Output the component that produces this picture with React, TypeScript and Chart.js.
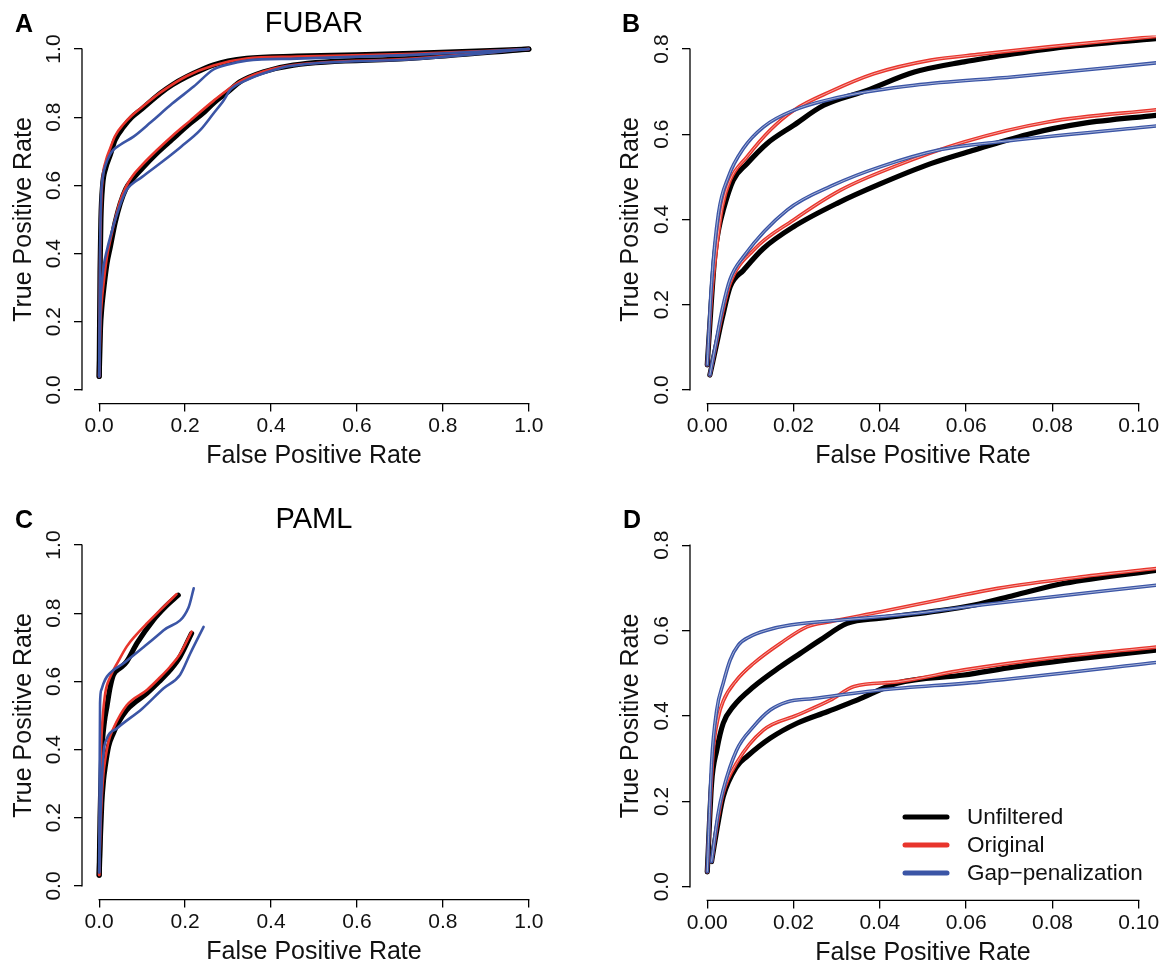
import React, { useEffect, useRef } from "react";
import { Chart, registerables } from "chart.js";

Chart.register(...registerables);

const FONT = "'Liberation Sans', Arial, Helvetica, sans-serif";
const BLACK = "#000000";
const RED = "#E8352C";
const BLUE = "#3B55A6";

type Pt = [number, number];

// ---------- Tick values / labels ----------
const unitTicks = [0, 0.2, 0.4, 0.6, 0.8, 1.0];
const unitTickLabels = ["0.0", "0.2", "0.4", "0.6", "0.8", "1.0"];
const zoomXTicks = [0, 0.02, 0.04, 0.06, 0.08, 0.1];
const zoomXTickLabels = ["0.00", "0.02", "0.04", "0.06", "0.08", "0.10"];
const zoomYTicks = [0, 0.2, 0.4, 0.6, 0.8];
const zoomYTickLabels = ["0.0", "0.2", "0.4", "0.6", "0.8"];

const legendLabels = ["Unfiltered", "Original", "Gap\u2212penalization"];

// ---------- Panel A: FUBAR (full range) ----------
const fubarUpperUnfiltered: Pt[] = [[0,0.04],[0.002,0.35],[0.004,0.5],[0.008,0.6],[0.015,0.65],[0.026,0.69],[0.037,0.733],[0.057,0.772],[0.076,0.8],[0.1,0.825],[0.142,0.87],[0.17,0.895],[0.204,0.919],[0.24,0.94],[0.266,0.953],[0.3,0.965],[0.343,0.973],[0.46,0.979],[0.73,0.987],[1,1]];
const fubarUpperOriginal: Pt[] = [[0,0.04],[0.002,0.37],[0.004,0.52],[0.008,0.62],[0.015,0.67],[0.026,0.71],[0.037,0.745],[0.057,0.78],[0.076,0.805],[0.1,0.83],[0.142,0.872],[0.204,0.921],[0.266,0.952],[0.343,0.972],[0.46,0.978],[0.73,0.986],[1,1]];
const fubarUpperGap: Pt[] = [[0,0.04],[0.002,0.4],[0.004,0.55],[0.008,0.62],[0.015,0.66],[0.025,0.69],[0.033,0.704],[0.05,0.72],[0.08,0.743],[0.12,0.785],[0.17,0.84],[0.22,0.89],[0.266,0.94],[0.3,0.955],[0.343,0.966],[0.46,0.972],[0.73,0.983],[1,1]];
const fubarLowerUnfiltered: Pt[] = [[0,0.04],[0.003,0.18],[0.006,0.24],[0.01,0.29],[0.018,0.37],[0.026,0.42],[0.037,0.49],[0.049,0.547],[0.062,0.59],[0.076,0.616],[0.1,0.65],[0.134,0.694],[0.17,0.735],[0.212,0.782],[0.24,0.81],[0.266,0.841],[0.3,0.875],[0.328,0.904],[0.382,0.933],[0.452,0.953],[0.73,0.973],[1,1]];
const fubarLowerOriginal: Pt[] = [[0,0.04],[0.003,0.2],[0.006,0.26],[0.01,0.31],[0.018,0.39],[0.026,0.44],[0.037,0.5],[0.049,0.555],[0.062,0.595],[0.076,0.625],[0.1,0.66],[0.134,0.703],[0.17,0.745],[0.212,0.79],[0.266,0.848],[0.328,0.905],[0.382,0.934],[0.452,0.953],[0.73,0.972],[1,1]];
const fubarLowerGap: Pt[] = [[0,0.04],[0.003,0.25],[0.006,0.31],[0.01,0.36],[0.018,0.41],[0.026,0.45],[0.04,0.51],[0.053,0.557],[0.064,0.587],[0.1,0.625],[0.142,0.665],[0.19,0.713],[0.235,0.762],[0.266,0.811],[0.29,0.85],[0.305,0.88],[0.343,0.909],[0.39,0.932],[0.444,0.95],[0.73,0.97],[1,1]];

// ---------- Panel B: FUBAR (FPR <= 0.1) ----------
const fubarZoomUpperUnfiltered: Pt[] = [[0,0.059],[0.0009,0.2],[0.0018,0.32],[0.0027,0.38],[0.0037,0.422],[0.006,0.492],[0.0092,0.531],[0.0138,0.578],[0.02,0.621],[0.027,0.668],[0.037,0.703],[0.048,0.746],[0.0595,0.77],[0.0712,0.789],[0.0828,0.805],[0.1045,0.825]];
const fubarZoomUpperOriginal: Pt[] = [[0,0.059],[0.001,0.22],[0.0022,0.336],[0.0035,0.43],[0.0053,0.492],[0.0092,0.547],[0.0146,0.61],[0.02,0.656],[0.0285,0.7],[0.0386,0.742],[0.0518,0.774],[0.0634,0.788],[0.079,0.805],[0.1045,0.83]];
const fubarZoomUpperGap: Pt[] = [[0,0.059],[0.001,0.25],[0.0026,0.414],[0.0049,0.5],[0.0084,0.567],[0.013,0.617],[0.02,0.656],[0.0324,0.691],[0.048,0.715],[0.0712,0.735],[0.1045,0.768]];
const fubarZoomLowerUnfiltered: Pt[] = [[0.0006,0.035],[0.002,0.1],[0.0035,0.17],[0.0053,0.242],[0.0084,0.281],[0.013,0.332],[0.02,0.383],[0.0301,0.438],[0.0402,0.484],[0.0518,0.531],[0.0619,0.563],[0.0751,0.602],[0.0867,0.625],[0.1045,0.645]];
const fubarZoomLowerOriginal: Pt[] = [[0.0006,0.035],[0.002,0.105],[0.0035,0.18],[0.0053,0.25],[0.0107,0.328],[0.02,0.399],[0.0309,0.469],[0.0433,0.524],[0.0595,0.582],[0.079,0.629],[0.1045,0.658]];
const fubarZoomLowerGap: Pt[] = [[0.0006,0.035],[0.002,0.11],[0.0035,0.19],[0.0053,0.26],[0.0084,0.313],[0.0185,0.422],[0.0293,0.481],[0.0402,0.524],[0.0541,0.564],[0.0673,0.582],[0.1045,0.62]];

// ---------- Panel C: PAML (full range) ----------
const pamlUpperUnfiltered: Pt[] = [[0,0.032],[0.002,0.2],[0.004,0.3],[0.006,0.389],[0.012,0.48],[0.018,0.526],[0.025,0.58],[0.033,0.619],[0.05,0.64],[0.064,0.658],[0.088,0.712],[0.126,0.78],[0.155,0.82],[0.184,0.853]];
const pamlUpperOriginal: Pt[] = [[0,0.032],[0.002,0.25],[0.004,0.389],[0.008,0.49],[0.014,0.565],[0.026,0.614],[0.045,0.66],[0.064,0.702],[0.085,0.735],[0.111,0.77],[0.142,0.809],[0.18,0.856]];
const pamlUpperGap: Pt[] = [[0,0.04],[0.001,0.3],[0.002,0.536],[0.005,0.575],[0.01,0.594],[0.018,0.614],[0.06,0.656],[0.1,0.697],[0.15,0.75],[0.208,0.817],[0.22,0.873]];
const pamlLowerUnfiltered: Pt[] = [[0,0.032],[0.003,0.15],[0.006,0.243],[0.01,0.31],[0.014,0.35],[0.022,0.41],[0.033,0.448],[0.045,0.48],[0.064,0.516],[0.085,0.54],[0.111,0.565],[0.14,0.6],[0.165,0.633],[0.188,0.672],[0.215,0.741]];
const pamlLowerOriginal: Pt[] = [[0,0.032],[0.003,0.17],[0.006,0.26],[0.01,0.33],[0.014,0.37],[0.022,0.425],[0.033,0.462],[0.064,0.53],[0.111,0.575],[0.14,0.61],[0.165,0.643],[0.188,0.68],[0.215,0.746]];
const pamlLowerGap: Pt[] = [[0,0.04],[0.003,0.2],[0.006,0.3],[0.01,0.389],[0.018,0.433],[0.041,0.462],[0.1,0.52],[0.15,0.58],[0.188,0.619],[0.212,0.682],[0.243,0.76]];

// ---------- Panel D: PAML (FPR <= 0.1) ----------
const pamlZoomUpperUnfiltered: Pt[] = [[0,0.035],[0.001,0.242],[0.0022,0.32],[0.0037,0.383],[0.006,0.422],[0.0108,0.469],[0.0169,0.515],[0.0216,0.547],[0.0262,0.578],[0.0324,0.617],[0.0402,0.629],[0.0518,0.644],[0.0619,0.66],[0.0712,0.683],[0.0828,0.711],[0.1045,0.742]];
const pamlZoomUpperOriginal: Pt[] = [[0,0.035],[0.0007,0.2],[0.0014,0.32],[0.0025,0.395],[0.0037,0.435],[0.0068,0.484],[0.0107,0.523],[0.0169,0.57],[0.0231,0.609],[0.0285,0.621],[0.0402,0.644],[0.0557,0.676],[0.0673,0.699],[0.0867,0.726],[0.1045,0.746]];
const pamlZoomUpperGap: Pt[] = [[0,0.035],[0.001,0.289],[0.0022,0.414],[0.0037,0.477],[0.0053,0.531],[0.0072,0.566],[0.0099,0.586],[0.0138,0.601],[0.0192,0.613],[0.0324,0.626],[0.0479,0.64],[0.0634,0.66],[0.1045,0.707]];
const pamlZoomLowerUnfiltered: Pt[] = [[0.001,0.059],[0.0025,0.15],[0.0037,0.211],[0.0068,0.281],[0.0092,0.305],[0.0146,0.348],[0.0208,0.383],[0.0278,0.41],[0.0347,0.437],[0.044,0.477],[0.0595,0.496],[0.0712,0.515],[0.0867,0.535],[0.1045,0.555]];
const pamlZoomLowerOriginal: Pt[] = [[0.001,0.059],[0.0025,0.16],[0.0037,0.22],[0.0068,0.29],[0.013,0.367],[0.0208,0.402],[0.0285,0.437],[0.034,0.469],[0.044,0.48],[0.0595,0.508],[0.079,0.535],[0.1045,0.562]];
const pamlZoomLowerGap: Pt[] = [[0.001,0.059],[0.0025,0.17],[0.0037,0.227],[0.0068,0.32],[0.0107,0.375],[0.0146,0.414],[0.0185,0.433],[0.0247,0.441],[0.0402,0.461],[0.0634,0.48],[0.1045,0.526]];

// ---------- Panel specs ----------
interface Curve { data: Pt[]; color: string; width: number; doubled: boolean; }
interface PanelSpec {
  key: string;
  letter: string;
  title: string;
  left: number; top: number; w: number; h: number;
  pad: { left: number; right: number; top: number; bottom: number };
  yAxisWidth: number;
  xRange: [number, number]; yRange: [number, number];
  xTicks: number[]; xLabels: string[]; yTicks: number[]; yLabels: string[];
  curves: Curve[];
  letterPos: [number, number];
  titleBaseline: number;
  legend: boolean;
}

function group(unf: Pt[], orig: Pt[], gap: Pt[], thin: number, doubled: boolean) {
  return {
    black: { data: unf, color: BLACK, width: 5.2, doubled: false },
    red: { data: orig, color: RED, width: thin, doubled },
    blue: { data: gap, color: BLUE, width: thin, doubled },
  };
}

function curvesOf(a: ReturnType<typeof group>, b: ReturnType<typeof group>): Curve[] {
  return [a.black, b.black, a.red, b.red, a.blue, b.blue];
}

const panels: PanelSpec[] = [
  {
    key: "A", letter: "A", title: "FUBAR",
    left: 0, top: 0, w: 583, h: 500,
    pad: { left: 0, right: 37, top: 35.4, bottom: 26.4 },
    yAxisWidth: 82,
    xRange: [-0.04, 1.04], yRange: [-0.04, 1.04],
    xTicks: unitTicks, xLabels: unitTickLabels, yTicks: unitTicks, yLabels: unitTickLabels,
    curves: curvesOf(
      group(fubarUpperUnfiltered, fubarUpperOriginal, fubarUpperGap, 2.6, false),
      group(fubarLowerUnfiltered, fubarLowerOriginal, fubarLowerGap, 2.6, false)
    ),
    letterPos: [15, 31.7], titleBaseline: 32, legend: false,
  },
  {
    key: "B", letter: "B", title: "",
    left: 583, top: 0, w: 583, h: 500,
    pad: { left: 24, right: 10, top: 35.4, bottom: 26.4 },
    yAxisWidth: 83,
    xRange: [-0.004, 0.104], yRange: [-0.032, 0.832],
    xTicks: zoomXTicks, xLabels: zoomXTickLabels, yTicks: zoomYTicks, yLabels: zoomYTickLabels,
    curves: curvesOf(
      group(fubarZoomUpperUnfiltered, fubarZoomUpperOriginal, fubarZoomUpperGap, 3.6, true),
      group(fubarZoomLowerUnfiltered, fubarZoomLowerOriginal, fubarZoomLowerGap, 3.6, true)
    ),
    letterPos: [39, 31.7], titleBaseline: 32, legend: false,
  },
  {
    key: "C", letter: "C", title: "PAML",
    left: 0, top: 482, w: 583, h: 500,
    pad: { left: 0, right: 37, top: 49.4, bottom: 12.4 },
    yAxisWidth: 82,
    xRange: [-0.04, 1.04], yRange: [-0.04, 1.04],
    xTicks: unitTicks, xLabels: unitTickLabels, yTicks: unitTicks, yLabels: unitTickLabels,
    curves: curvesOf(
      group(pamlUpperUnfiltered, pamlUpperOriginal, pamlUpperGap, 2.6, false),
      group(pamlLowerUnfiltered, pamlLowerOriginal, pamlLowerGap, 2.6, false)
    ),
    letterPos: [15, 46], titleBaseline: 46, legend: false,
  },
  {
    key: "D", letter: "D", title: "",
    left: 583, top: 482, w: 583, h: 500,
    pad: { left: 24, right: 10, top: 49.6, bottom: 11.6 },
    yAxisWidth: 83,
    xRange: [-0.004, 0.104], yRange: [-0.032, 0.832],
    xTicks: zoomXTicks, xLabels: zoomXTickLabels, yTicks: zoomYTicks, yLabels: zoomYTickLabels,
    curves: curvesOf(
      group(pamlZoomUpperUnfiltered, pamlZoomUpperOriginal, pamlZoomUpperGap, 3.6, true),
      group(pamlZoomLowerUnfiltered, pamlZoomLowerOriginal, pamlZoomLowerGap, 3.6, true)
    ),
    letterPos: [40, 46], titleBaseline: 46, legend: true,
  },
];

const decorPlugin = {
  id: "decor",
  afterDraw(chart: any, _args: any, opts: any) {
    const spec: PanelSpec = opts.spec;
    const ctx: CanvasRenderingContext2D = chart.ctx;
    const { left, right, bottom } = chart.chartArea;
    const xs = chart.scales.x;
    const ys = chart.scales.y;
    ctx.save();
    ctx.strokeStyle = "#000";
    ctx.lineWidth = 1.3;
    ctx.lineCap = "square";
    // R-style axis lines spanning first..last tick
    ctx.beginPath();
    ctx.moveTo(xs.getPixelForValue(spec.xTicks[0]), bottom);
    ctx.lineTo(xs.getPixelForValue(spec.xTicks[spec.xTicks.length - 1]), bottom);
    ctx.stroke();
    ctx.beginPath();
    ctx.moveTo(left, ys.getPixelForValue(spec.yTicks[0]));
    ctx.lineTo(left, ys.getPixelForValue(spec.yTicks[spec.yTicks.length - 1]));
    ctx.stroke();

    ctx.fillStyle = "#000";
    ctx.textBaseline = "alphabetic";
    ctx.textAlign = "left";
    ctx.font = `bold 25px ${FONT}`;
    ctx.fillText(spec.letter, spec.letterPos[0], spec.letterPos[1]);
    if (spec.title) {
      ctx.font = `29px ${FONT}`;
      ctx.textAlign = "center";
      ctx.fillText(spec.title, (left + right) / 2, spec.titleBaseline);
    }
    if (spec.legend) {
      const colors = [BLACK, RED, BLUE];
      const ys0 = [335, 363, 391];
      ctx.lineCap = "round";
      ctx.lineWidth = 5;
      ctx.font = `22.5px ${FONT}`;
      ctx.textAlign = "left";
      ctx.textBaseline = "middle";
      for (let i = 0; i < legendLabels.length; i++) {
        ctx.strokeStyle = colors[i];
        ctx.beginPath();
        ctx.moveTo(322, ys0[i]);
        ctx.lineTo(364, ys0[i]);
        ctx.stroke();
        ctx.fillStyle = "#111";
        ctx.fillText(legendLabels[i], 384, ys0[i] + 1);
      }
    }
    ctx.restore();
  },
};

function buildDatasets(spec: PanelSpec) {
  const drawOrder: any[] = [];
  for (const c of spec.curves) {
    const data = c.data.map(([x, y]) => ({ x, y }));
    drawOrder.push({
      data,
      borderColor: c.color,
      borderWidth: c.width,
      pointRadius: 0,
      fill: false,
      cubicInterpolationMode: "monotone",
      borderCapStyle: "round",
      borderJoinStyle: "round",
    });
    if (c.doubled) {
      drawOrder.push({
        data,
        borderColor: "rgba(255,255,255,0.55)",
        borderWidth: 1,
        pointRadius: 0,
        fill: false,
        cubicInterpolationMode: "monotone",
        borderCapStyle: "butt",
        borderJoinStyle: "round",
      });
    }
  }
  // Chart.js draws the first dataset on top, so reverse the bottom-to-top list
  return drawOrder.reverse();
}

function Panel({ spec }: { spec: PanelSpec }) {
  const ref = useRef<HTMLCanvasElement | null>(null);
  useEffect(() => {
    const canvas = ref.current;
    if (!canvas) return;
    const tickFont = { family: FONT, size: 21 };
    const titleFont = { family: FONT, size: 25 };
    const chart = new Chart(canvas, {
      type: "line",
      data: { datasets: buildDatasets(spec) },
      plugins: [decorPlugin],
      options: {
        animation: false,
        responsive: false,
        devicePixelRatio: 1,
        events: [],
        layout: { padding: spec.pad },
        plugins: {
          legend: { display: false },
          tooltip: { enabled: false },
          title: { display: false },
          decor: { spec },
        } as any,
        scales: {
          x: {
            type: "linear",
            min: spec.xRange[0],
            max: spec.xRange[1],
            afterBuildTicks: (scale: any) => {
              scale.ticks = spec.xTicks.map((v) => ({ value: v }));
            },
            afterFit: (scale: any) => {
              scale.height = 70;
            },
            border: { display: false },
            grid: {
              drawOnChartArea: false,
              drawTicks: true,
              tickLength: 8,
              color: "#000",
              lineWidth: 1.3,
            },
            ticks: {
              autoSkip: false,
              minRotation: 0,
              maxRotation: 0,
              padding: 2,
              color: "#111",
              font: tickFont,
              callback: (_v: any, i: number) => spec.xLabels[i],
            },
            title: {
              display: true,
              text: "False Positive Rate",
              color: "#111",
              font: titleFont,
              padding: { top: 0, bottom: 2 },
            },
          },
          y: {
            type: "linear",
            min: spec.yRange[0],
            max: spec.yRange[1],
            afterBuildTicks: (scale: any) => {
              scale.ticks = spec.yTicks.map((v) => ({ value: v }));
            },
            afterFit: (scale: any) => {
              scale.width = spec.yAxisWidth;
            },
            border: { display: false },
            grid: {
              drawOnChartArea: false,
              drawTicks: true,
              tickLength: 8,
              color: "#000",
              lineWidth: 1.3,
            },
            ticks: {
              autoSkip: false,
              minRotation: 90,
              maxRotation: 90,
              crossAlign: "center",
              padding: 5,
              color: "#111",
              font: tickFont,
              callback: (_v: any, i: number) => spec.yLabels[i],
            },
            title: {
              display: true,
              text: "True Positive Rate",
              color: "#111",
              font: titleFont,
              padding: { top: 9, bottom: 0 },
            },
          },
        },
      } as any,
    });
    return () => chart.destroy();
  }, [spec]);
  return (
    <canvas
      ref={ref}
      width={spec.w}
      height={spec.h}
      style={{ position: "absolute", left: spec.left, top: spec.top, width: spec.w, height: spec.h }}
    />
  );
}

export default function App() {
  return (
    <div
      style={{
        position: "fixed",
        left: 0,
        top: 0,
        width: 1166,
        height: 965,
        overflow: "hidden",
        background: "#ffffff",
      }}
    >
      {panels.map((p) => (
        <Panel key={p.key} spec={p} />
      ))}
    </div>
  );
}
